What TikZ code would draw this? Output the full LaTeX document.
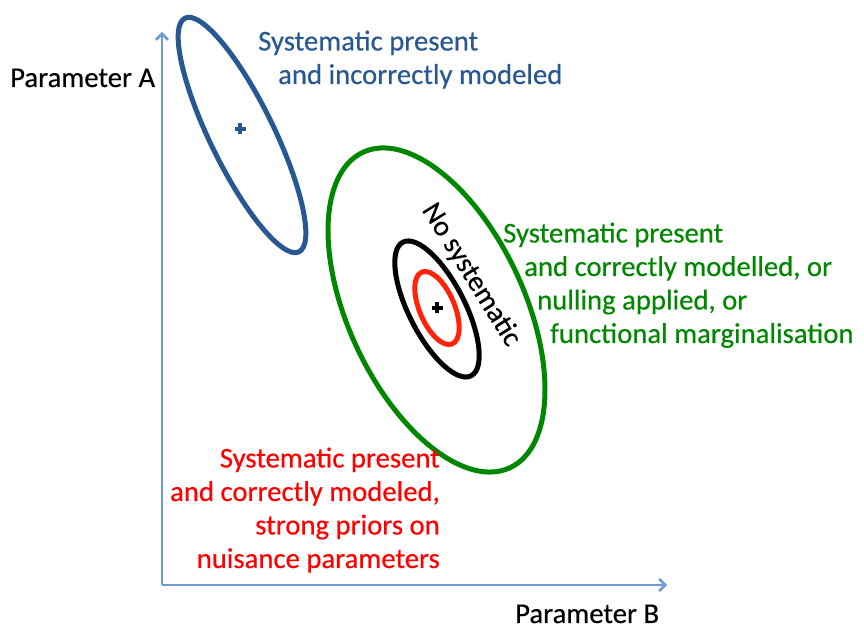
\documentclass[tikz,border=0pt]{standalone}
\usepackage{fontspec}
\setmainfont{Carlito}
\usepackage{xcolor}
\usetikzlibrary{arrows.meta, positioning}
\definecolor{axisblue}{RGB}{110,155,210}
\definecolor{darkblue}{RGB}{40,88,145}
\definecolor{fitgreen}{RGB}{0,135,0}
\definecolor{fitred}{RGB}{255,35,10}
\definecolor{textred}{RGB}{255,0,0}

\begin{document}
\begin{tikzpicture}[x=1pt, y=1pt,
    lbl/.style={inner sep=0pt, font=\fontsize{28.7}{33.5}\selectfont\addfontfeatures{FakeBold=0.4}},
    axis/.style={draw=axisblue, line width=2.5pt, -{Straight Barb[length=6pt, width=12pt, line width=2.5pt]}},
    contour/.style={line width=5pt},
    plusmark/.style={line width=3.6pt}
]
\useasboundingbox (0,0) rectangle (864,644);

% axes
\coordinate (orig) at (162,59);
\coordinate (ytip) at (162,612);
\coordinate (xtip) at (667,59);
\draw[axis] (orig) -- (ytip);
\draw[axis] (orig) -- (xtip);

\node[lbl, anchor=base west] (parA) at (10,557) {Parameter A};
\node[lbl, anchor=base west] (parB) at (515,21) {Parameter B};

% incorrectly modeled
\draw[contour, darkblue, rotate around={-64:(242,509)}] (242,509) ellipse [x radius=130, y radius=32];
\coordinate (cblue) at (240,515);
\draw[plusmark, darkblue] ([xshift=-5.5pt]cblue) -- ([xshift=5.5pt]cblue) ([yshift=-5.5pt]cblue) -- ([yshift=5.5pt]cblue);

% correctly modelled
\draw[contour, fitgreen, rotate around={-65:(436.5,334)}] (436.5,334) ellipse [x radius=174, y radius=88];
\draw[contour, black, rotate around={-63:(437,335)}] (437,335) ellipse [x radius=75, y radius=28];
\draw[contour, fitred, rotate around={-67:(437,336)}] (437,336) ellipse [x radius=39, y radius=17.5];
\coordinate (cnone) at (437,336);
\draw[plusmark, black] ([xshift=-5.5pt]cnone) -- ([xshift=5.5pt]cnone) ([yshift=-5.5pt]cnone) -- ([yshift=5.5pt]cnone);

\node[lbl, rotate=-58] (nosys) at (471,369) {No systematic};

\node[lbl, anchor=base west, align=left, text=darkblue] (txtblue) at (258,560)
  {Systematic present\\\hspace*{20pt}and incorrectly modeled};
\node[lbl, anchor=base west, align=left, text=fitgreen] (txtgreen) at (503,301)
  {Systematic present\\\hspace*{21pt}and correctly modelled, or\\\hspace*{34pt}nulling applied, or\\\hspace*{47pt}functional marginalisation};
\node[lbl, anchor=base east, align=right, text=textred] (txtred) at (440,76)
  {Systematic present\\and correctly modeled,\\strong priors on\\nuisance parameters};
\end{tikzpicture}
\end{document}
